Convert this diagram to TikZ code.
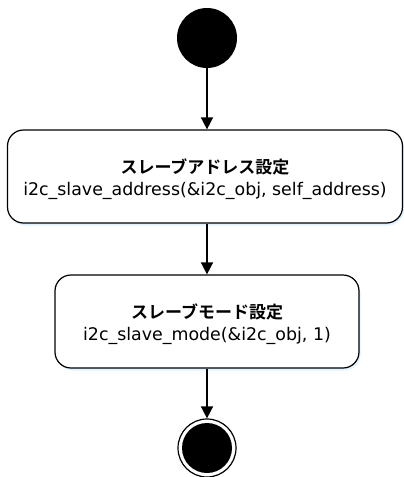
\documentclass[tikz,border=0pt]{standalone}
\usepackage{fontspec}
\setmainfont{DejaVu Sans}
\newfontfamily\jpbold{Noto Sans CJK JP Bold}
\usetikzlibrary{arrows.meta,shadows}

\newcommand{\statetitle}[1]{{\jpbold\fontsize{17}{22}\selectfont\rule{0pt}{21pt}#1}}

\begin{document}
\begin{tikzpicture}[x=1pt, y=1pt,
  flow/.style={line width=1.5pt, -{Triangle[width=12pt,length=12pt]}},
  statebox/.style={draw, line width=1.2pt, rounded corners=16pt, fill=white,
    minimum height=93pt, align=center, font=\fontsize{17.4}{22}\selectfont,
    drop shadow={shadow xshift=1.5pt, shadow yshift=-2.5pt, fill=blue!40!cyan, opacity=0.12}}]

\useasboundingbox (0,0) rectangle (404,-477);

% -------- start / end -----------
\node (start) [circle, fill=black, minimum size=60pt, inner sep=0pt] at (207,-38) {};
\node (stop)  [circle, draw, line width=1.2pt, fill=white, minimum size=58pt, inner sep=0pt] at (207,-448) {};
\node (stopdot) [circle, fill=black, minimum size=50pt, inner sep=0pt] at (stop) {};

% -------- states -----------
\node (addr) [statebox, minimum width=395pt] at (205,-176.5)
  {\statetitle{スレーブアドレス設定}\\i2c\_slave\_address(\&i2c\_obj, self\_address)};
\node (mode) [statebox, minimum width=304pt] at (207,-321.5)
  {\statetitle{スレーブモード設定}\\i2c\_slave\_mode(\&i2c\_obj, 1)};

\draw [flow] (start) -- (start |- addr.north);
\draw [flow] (addr.south -| mode) -- (mode);
\draw [flow] (mode) -- (stop);

\end{tikzpicture}
\end{document}
